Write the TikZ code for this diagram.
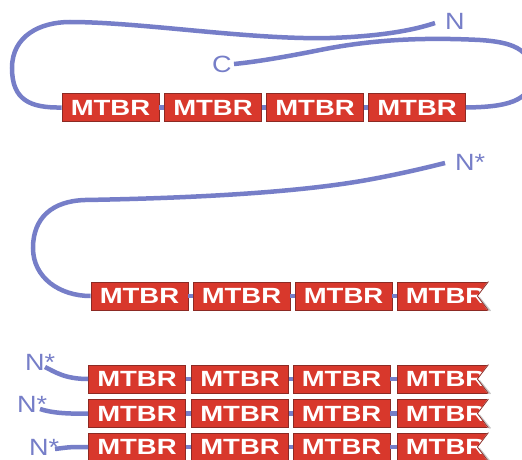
\documentclass[tikz,border=0pt]{standalone}
\usepackage{fontspec}
\newfontfamily\labfont{Liberation Sans}
\usetikzlibrary{calc}
\definecolor{chainblue}{RGB}{118,126,200}
\definecolor{mtbrred}{RGB}{216,56,44}
\definecolor{mtbredge}{RGB}{140,42,36}
\tikzset{
  chain/.style={draw=chainblue, line width=4.5pt, line cap=butt},
  mtbr/.style={rectangle, fill=mtbrred, draw=mtbredge, line width=0.8pt,
    minimum width=97pt, minimum height=28pt, inner sep=0pt, text=white,
    font=\labfont\bfseries\fontsize{22}{22}\selectfont},
  endlabel/.style={text=chainblue, inner sep=0pt, anchor=base west,
    font=\labfont\fontsize{23.5}{23.5}\selectfont},
}
\newcommand\mtbrtext{\scalebox{1.25}[1]{MTBR}}
\newcommand\stretchlab[1]{\scalebox{1.15}[1]{#1}}
% cut the truncated right end of a repeat into a notch
\newcommand\notchbox[1]{%
  \fill[white] ($(#1.north east)+(-6,-1)$) -- ($(#1.east)+(-17,0)$)
    -- ($(#1.south east)+(-6,1)$) -- ($(#1.south east)+(6,1)$)
    -- ($(#1.north east)+(6,-1)$) -- cycle;
  \draw[gray!45, line width=1.4pt] ($(#1.east)+(-15,1.5)$) -- ($(#1.south east)+(-4,0.5)$);
  \draw[mtbredge, line width=0.8pt] ($(#1.north east)+(-6,0)$) -- ($(#1.east)+(-17,0)$)
    -- ($(#1.south east)+(-6,0)$);
}
% a row of four repeats joined by short linkers
\newcommand\mtbrrow[6]{%
  \node[mtbr] (#1a) at (#2,#6) {\mtbrtext};
  \node[mtbr] (#1b) at (#3,#6) {\mtbrtext};
  \node[mtbr] (#1c) at (#4,#6) {\mtbrtext};
  \node[mtbr] (#1d) at (#5,#6) {\mtbrtext};
  \draw[chain] (#1a.east) -- (#1b.west);
  \draw[chain] (#1b.east) -- (#1c.west);
  \draw[chain] (#1c.east) -- (#1d.west);
}
\begin{document}
\begin{tikzpicture}[x=1pt, y=-1pt]
\useasboundingbox (0,0) rectangle (522,460);
\fill[white] (0,0) rectangle (522,460);

% ---- folded monomer (paperclip) ----
\mtbrrow{a}{110.5}{213}{315}{417}{107.5}
\coordinate (nA) at (435,23);
\coordinate (cA) at (234,64);
\draw[chain] (aa.west) .. controls (30,108) and (12,100) .. (12,68)
  .. controls (12,36) and (40,22) .. (70,22)
  .. controls (140,22) and (250,40) .. (330,38)
  .. controls (390,36) and (420,28) .. (nA);
\draw[chain] (ad.east) .. controls (505,107) and (532,102) .. (532,75)
  .. controls (532,48) and (510,42) .. (480,40)
  .. controls (420,37) and (370,40) .. (320,50)
  .. controls (285,57) and (255,62) .. (cA);
\node[endlabel] (labN) at (445,30) {\stretchlab{N}};
\node[endlabel] (labC) at (212,72.5) {\stretchlab{C}};

% ---- truncated, opened monomer ----
\mtbrrow{b}{139.5}{241.5}{343.5}{445.5}{296}
\notchbox{bd}
\coordinate (nB) at (445,163);
\draw[chain] (ba.west) .. controls (60,296) and (33,278) .. (33,248)
  .. controls (33,218) and (52,201) .. (85,200)
  .. controls (200,198) and (300,192) .. (367,180)
  .. controls (400,174) and (425,168) .. (nB);
\node[endlabel] (labNB) at (455,170) {\stretchlab{N*}};

% ---- stacked repeats ----
\mtbrrow{c}{137}{240}{341.5}{445.5}{379}
\mtbrrow{d}{137}{240}{341.5}{445.5}{413.5}
\mtbrrow{e}{137}{240}{341.5}{445.5}{447}
\notchbox{cd}
\notchbox{dd}
\notchbox{ed}
\coordinate (nC) at (45,367);
\coordinate (nD) at (40,409);
\coordinate (nE) at (55,449);
\draw[chain] (ca.west) .. controls (65,379) and (55,372) .. (nC);
\draw[chain] (da.west) .. controls (68,414) and (52,413) .. (nD);
\draw[chain] (ea.west) .. controls (70,447) .. (nE);
\node[endlabel] (labNC) at (25,370) {\stretchlab{N*}};
\node[endlabel] (labND) at (17,412) {\stretchlab{N*}};
\node[endlabel] (labNE) at (29,455) {\stretchlab{N*}};
\end{tikzpicture}
\end{document}
